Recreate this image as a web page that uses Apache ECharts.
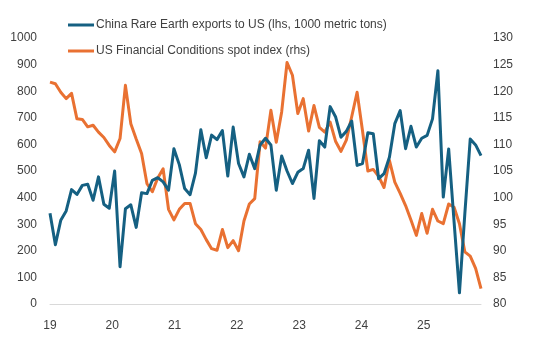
<!DOCTYPE html>
<html>
<head>
<meta charset="utf-8">
<script src="https://cdn.jsdelivr.net/npm/echarts@6/dist/echarts.min.js"></script>
<style>
html,body{margin:0;padding:0;background:#fff;}
#chart{width:543px;height:337px;}
</style>
</head>
<body>
<div id="chart"></div>
<script>
// Monthly categories, Jan 2019 – Sep 2025
const categories = [];
for (let y = 2019; y <= 2025; y++) {
  for (let m = 1; m <= 12; m++) {
    if (y === 2025 && m > 9) break;
    categories.push(y + '-' + String(m).padStart(2, '0'));
  }
}
// Year tick labels
const yearLabels = ['19', '20', '21', '22', '23', '24', '25'];

// China Rare Earth exports to US (lhs)
const rareEarth = [
  341, 223, 315, 350, 430, 412, 446, 450, 390, 478, 375, 360,
  500, 140, 358, 373, 288, 418, 415, 465, 475, 459, 428, 584,
  524, 434, 411, 492, 655, 550, 635, 618, 652, 481, 665, 528,
  478, 563, 509, 598, 623, 598, 428, 556, 500, 453, 495, 509,
  578, 397, 614, 590, 742, 704, 627, 649, 688, 521, 528, 644,
  640, 471, 490, 552, 678, 727, 584, 668, 590, 623, 634, 696,
  877, 402, 583, 310, 42, 340, 620, 598, 558
];
// US Financial Conditions spot index (rhs)
const finCond = [
  121.7, 121.4, 119.8, 118.6, 119.6, 114.8, 114.7, 113.3, 113.6, 112.3, 111.3, 109.8,
  108.6, 111.1, 121.1, 113.9, 111.0, 108.3, 102.6, 101.1, 103.7, 105.4, 97.8, 95.8,
  97.8, 98.9, 98.9, 95.1, 94.0, 92.1, 90.4, 90.1, 94.0, 90.6, 91.9, 90.0,
  95.6, 98.8, 99.8, 110.5, 109.3, 116.4, 110.4, 116.1, 125.4, 123.0, 115.8, 118.6,
  112.5, 117.3, 113.2, 112.3, 114.2, 110.6, 108.7, 110.8, 115.2, 119.8, 112.6, 105.0,
  105.3, 104.0, 101.9, 107.0, 102.9, 100.8, 98.5, 95.8, 92.9, 97.0, 93.3, 97.8,
  95.6, 95.1, 98.8, 98.2, 95.1, 89.8, 89.0, 86.7, 82.9
];

const FONT = '"Liberation Sans", Arial, sans-serif';
const labelColor = '#404040';
const chart = echarts.init(document.getElementById('chart'), null, {renderer: 'canvas'});
chart.setOption({
  animation: false,
  backgroundColor: '#ffffff',
  grid: {left: 50, right: 62, top: 38, bottom: 33},
  legend: {
    orient: 'vertical',
    left: 63,
    top: 14,
    itemGap: 14,
    itemWidth: 26,
    itemHeight: 3,
    icon: 'rect',
    textStyle: {fontFamily: FONT, fontSize: 12, color: labelColor, padding: [0, 0, 0, -3]},
    data: ['China Rare Earth exports to US (lhs, 1000 metric tons)', 'US Financial Conditions spot index (rhs)']
  },
  xAxis: [
    {
      type: 'category',
      data: categories,
      boundaryGap: false,
      axisLine: {show: true, lineStyle: {color: '#d9d9d9', width: 1}},
      axisTick: {show: false},
      axisLabel: {show: false},
      splitLine: {show: false}
    },
    {
      type: 'value',
      position: 'bottom',
      min: 19,
      max: 25.92,
      interval: 1,
      axisLine: {show: false},
      axisTick: {show: false},
      splitLine: {show: false},
      axisLabel: {
        show: true,
        margin: 16,
        showMaxLabel: false,
        fontFamily: FONT, fontSize: 12, color: labelColor,
        formatter: function (v) {
          const idx = Math.round(v - 19);
          return (Math.abs(v - 19 - idx) < 1e-6 && yearLabels[idx]) ? yearLabels[idx] : '';
        }
      }
    }
  ],
  yAxis: [
    {
      type: 'value',
      min: 0, max: 1000, interval: 100,
      axisLine: {show: false},
      axisTick: {show: false},
      splitLine: {show: false},
      axisLabel: {margin: 13, fontFamily: FONT, fontSize: 12, color: labelColor,
        formatter: function (v) { return String(v); }}
    },
    {
      type: 'value',
      position: 'right',
      min: 80, max: 130, interval: 5,
      axisLine: {show: false},
      axisTick: {show: false},
      splitLine: {show: false},
      axisLabel: {margin: 12, fontFamily: FONT, fontSize: 12, color: labelColor,
        formatter: function (v) { return String(v); }}
    }
  ],
  series: [
    {
      name: 'China Rare Earth exports to US (lhs, 1000 metric tons)',
      type: 'line',
      xAxisIndex: 0,
      yAxisIndex: 0,
      data: rareEarth,
      symbol: 'none',
      lineStyle: {color: '#156082', width: 3, join: 'round'},
      itemStyle: {color: '#156082'},
      z: 3
    },
    {
      name: 'US Financial Conditions spot index (rhs)',
      type: 'line',
      xAxisIndex: 0,
      yAxisIndex: 1,
      data: finCond,
      symbol: 'none',
      lineStyle: {color: '#E97132', width: 3, join: 'round'},
      itemStyle: {color: '#E97132'},
      z: 2
    }
  ]
});
</script>
</body>
</html>
